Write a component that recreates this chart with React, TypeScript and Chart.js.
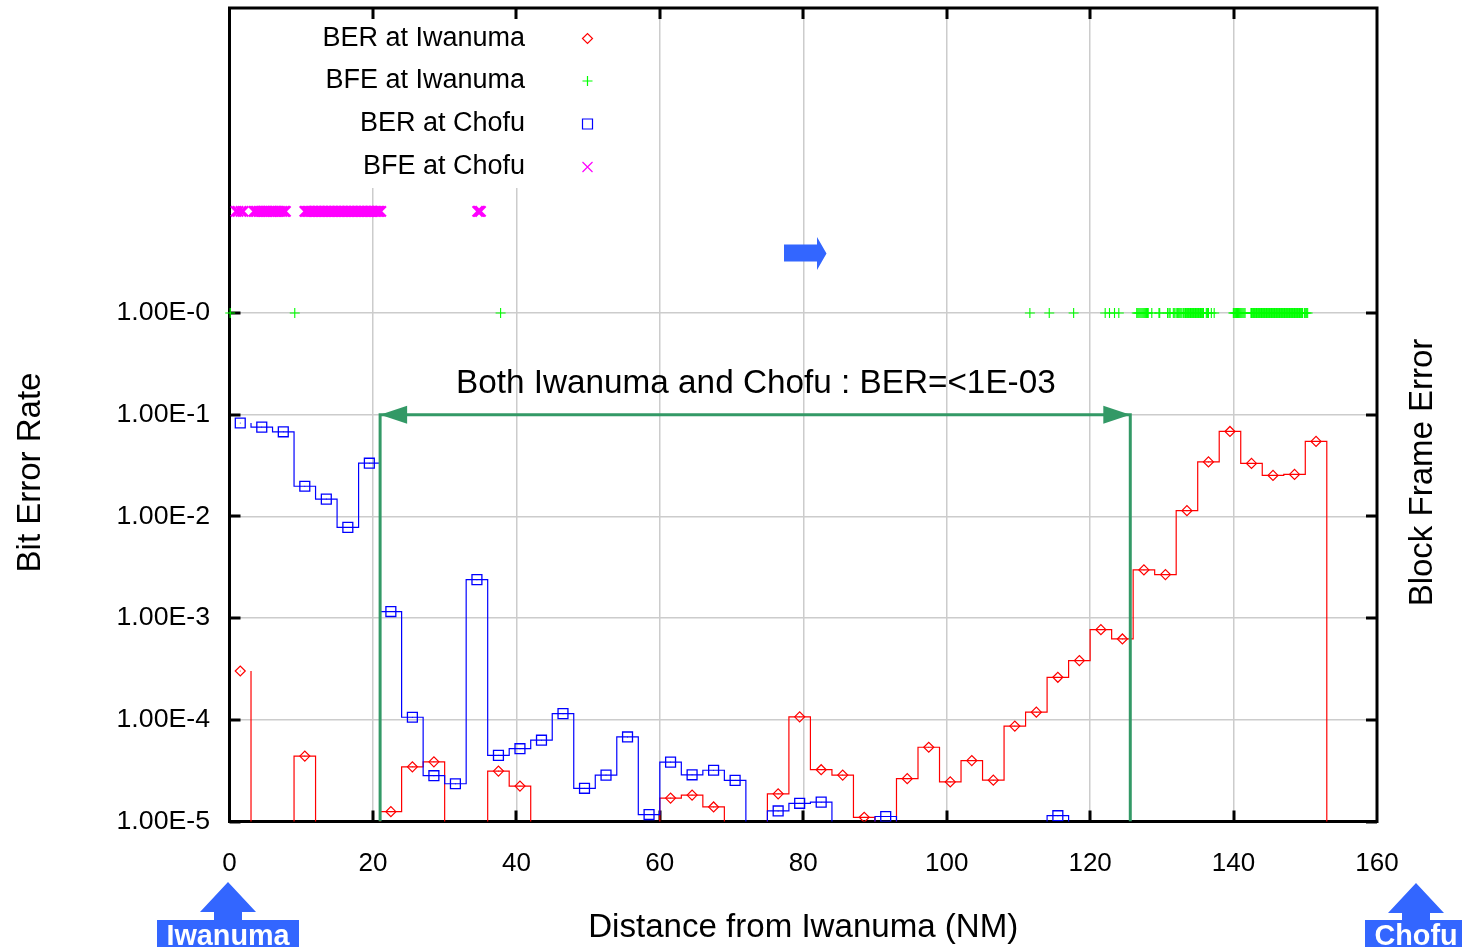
import React, { useEffect, useRef } from "react";
import { Chart, registerables } from "chart.js";

Chart.register(...registerables);

const FONT = '"Liberation Sans", Arial, sans-serif';

const xTicks = [0, 20, 40, 60, 80, 100, 120, 140, 160];
const yTicks = [1e-5, 1e-4, 1e-3, 1e-2, 1e-1, 1e0];
const yTickLabels = ["1.00E-5", "1.00E-4", "1.00E-3", "1.00E-2", "1.00E-1", "1.00E-0"];

const binCentres = [
  1.5, 4.5, 7.5, 10.5, 13.5, 16.5, 19.5, 22.5, 25.5, 28.5, 31.5, 34.5, 37.5, 40.5, 43.5, 46.5, 49.5,
  52.5, 55.5, 58.5, 61.5, 64.5, 67.5, 70.5, 73.5, 76.5, 79.5, 82.5, 85.5, 88.5, 91.5, 94.5, 97.5,
  100.5, 103.5, 106.5, 109.5, 112.5, 115.5, 118.5, 121.5, 124.5, 127.5, 130.5, 133.5, 136.5, 139.5,
  142.5, 145.5, 148.5, 151.5,
];

// null = below the 1E-5 floor of the axis
const berIwanuma: (number | null)[] = [
  3.02e-4, null, null, 4.4e-5, null, null, null, 1.25e-5, 3.45e-5, 3.86e-5, null, null, 3.13e-5, 2.23e-5,
  null, null, null, null, null, null, 1.7e-5, 1.82e-5, 1.39e-5, null, null, 1.87e-5, 1.07e-4, 3.23e-5,
  2.86e-5, 1.1e-5, null, 2.64e-5, 5.37e-5, 2.45e-5, 3.97e-5, 2.55e-5, 8.67e-5, 1.19e-4, 2.62e-4, 3.82e-4,
  7.7e-4, 6.24e-4, 2.98e-3, 2.68e-3, 1.14e-2, 3.44e-2, 6.85e-2, 3.32e-2, 2.53e-2, 2.59e-2, 5.47e-2,
];
const berChofu: (number | null)[] = [
  8.3e-2, 7.56e-2, 6.8e-2, 1.98e-2, 1.48e-2, 7.8e-3, 3.34e-2, 1.16e-3, 1.06e-4, 2.82e-5, 2.35e-5, 2.39e-3,
  4.47e-5, 5.2e-5, 6.3e-5, 1.15e-4, 2.12e-5, 2.86e-5, 6.78e-5, 1.17e-5, 3.84e-5, 2.88e-5, 3.19e-5, 2.54e-5,
  null, 1.27e-5, 1.51e-5, 1.55e-5, null, null, 1.12e-5, null, null, null, null, null, null, null, 1.14e-5,
  null, null, null, null, null, null, null, null, null, null, null, null,
];

const bfeIwanumaX = [
  0.1, 9.1, 37.8, 111.6, 114.3, 117.7, 122.1, 122.7, 123.4, 124.0, 126.5, 126.65, 126.8, 126.95, 127.1, 127.25,
  127.4, 127.55, 127.7, 127.85, 128.0, 128.1, 128.6, 129.6, 129.7, 130.8, 131.0, 131.15, 131.6, 131.8, 132.0,
  132.2, 132.35, 132.5, 132.65, 132.8, 133.0, 133.2, 133.3, 133.4, 133.5, 133.6, 133.7, 133.8, 133.9, 134.0,
  134.1, 134.2, 134.3, 134.4, 134.5, 134.6, 134.7, 134.8, 134.9, 135.0, 135.1, 135.2, 135.3, 135.4, 135.5,
  135.6, 135.7, 135.8, 136.2, 136.35, 136.5, 136.9, 137.3, 139.97, 140.1, 140.25, 140.4, 140.55, 140.7, 140.85,
  141.0, 141.15, 141.3, 141.45, 141.6, 142.43, 142.5, 142.6, 142.7, 142.8, 142.9, 143.0, 143.1, 143.2, 143.3,
  143.4, 143.5, 143.6, 143.7, 143.8, 143.9, 144.0, 144.1, 144.2, 144.3, 144.4, 144.5, 144.6, 144.7, 144.8,
  144.9, 145.0, 145.1, 145.2, 145.3, 145.4, 145.5, 145.6, 145.7, 145.8, 145.9, 146.0, 146.1, 146.2, 146.3,
  146.4, 146.5, 146.6, 146.7, 146.8, 146.9, 147.0, 147.1, 147.2, 147.3, 147.4, 147.5, 147.6, 147.7, 147.8,
  147.9, 148.0, 148.1, 148.2, 148.3, 148.4, 148.5, 148.6, 148.7, 148.8, 148.9, 149.0, 149.1, 149.2, 149.3,
  149.4, 149.5, 149.6, 149.87, 150.0, 150.15, 150.33,
];
const bfeChofuX = [
  0.9, 1.2, 1.6, 1.9, 3.4, 3.6, 3.8, 4.1, 4.3, 4.5, 4.8, 5.0, 5.2, 5.5, 5.8, 6.0, 6.3, 6.5, 6.8, 7.0, 7.3,
  7.6, 7.8, 10.5, 10.7, 10.9, 11.1, 11.3, 11.5, 11.7, 11.9, 12.1, 12.3, 12.5, 12.7, 12.9, 13.1, 13.3,
  13.5, 13.7, 13.9, 14.1, 14.3, 14.5, 14.7, 14.9, 15.1, 15.3, 15.5, 15.7, 15.9, 16.1, 16.3, 16.5, 16.7, 16.9,
  17.1, 17.3, 17.5, 17.7, 17.9, 18.1, 18.3, 18.5, 18.7, 18.9, 19.1, 19.3, 19.5, 19.7, 19.9, 20.1, 20.3, 20.5,
  20.7, 20.9, 21.1, 34.6, 34.8, 35.0,
];

const bfeIwanumaLevel = 1;
const bfeChofuLevel = 10;
const belowAxis = 1e-7;

const bracketX = [21, 21, 125.6, 125.6];
const bracketY = [1e-5, 1e-1, 1e-1, 1e-5];

const legendLabels = ["BER at Iwanuma", "BFE at Iwanuma", "BER at Chofu", "BFE at Chofu"];
const legendStyles = ["diamond", "plus", "square", "cross"];
const legendColors = ["#ff0000", "#00ff00", "#0000ff", "#ff00ff"];

const COL_BLUE = "#3366ff";
const COL_GREEN = "#339966";
const PLOT_TOP = 8;

function outline(values: (number | null)[]) {
  const pts: { x: number; y: number }[] = [];
  for (let i = 1; i <= values.length; i++) {
    const edge = binCentres[i - 1] + 1.5;
    const prev = values[i - 1] ?? belowAxis;
    const cur = i < values.length ? values[i] ?? belowAxis : belowAxis;
    pts.push({ x: edge, y: prev }, { x: edge, y: cur });
  }
  return pts;
}

function markers(values: (number | null)[]) {
  return binCentres
    .map((x, i) => ({ x, y: values[i] }))
    .filter((p) => p.y !== null) as { x: number; y: number }[];
}

function poly(ctx: CanvasRenderingContext2D, pts: number[][], color: string) {
  ctx.beginPath();
  pts.forEach(([x, y], i) => (i ? ctx.lineTo(x, y) : ctx.moveTo(x, y)));
  ctx.closePath();
  ctx.fillStyle = color;
  ctx.fill();
}

function sample(ctx: CanvasRenderingContext2D, style: string, color: string, x: number, y: number) {
  ctx.strokeStyle = color;
  ctx.fillStyle = color;
  ctx.lineWidth = 1.2;
  ctx.beginPath();
  if (style === "diamond") {
    ctx.moveTo(x - 5, y);
    ctx.lineTo(x, y - 5);
    ctx.lineTo(x + 5, y);
    ctx.lineTo(x, y + 5);
    ctx.closePath();
  } else if (style === "plus") {
    ctx.moveTo(x - 5, y);
    ctx.lineTo(x + 5, y);
    ctx.moveTo(x, y - 5);
    ctx.lineTo(x, y + 5);
  } else if (style === "square") {
    ctx.rect(x - 5, y - 5, 10, 10);
  } else {
    ctx.moveTo(x - 5, y - 5);
    ctx.lineTo(x + 5, y + 5);
    ctx.moveTo(x + 5, y - 5);
    ctx.lineTo(x - 5, y + 5);
  }
  ctx.stroke();
}

const overlay = {
  id: "overlay",
  afterLayout(chart: any) {
    // pin the top of the plot area, whatever the tick labels asked for
    const a = chart.chartArea;
    const y = chart.scales.y;
    a.top = PLOT_TOP;
    a.height = a.bottom - PLOT_TOP;
    y.top = PLOT_TOP;
    y.height = a.height;
    y.configure();
  },
  beforeDatasetsDraw(chart: any) {
    const { ctx, chartArea: a, scales } = chart;
    const sx = scales.x;
    const sy = scales.y;
    ctx.save();

    // legend box hides the grid
    ctx.fillStyle = "#ffffff";
    ctx.fillRect(300, 11, 300, 177);

    // frame and inward ticks
    ctx.strokeStyle = "#000000";
    ctx.lineWidth = 3;
    ctx.strokeRect(a.left, a.top, a.right - a.left, a.bottom - a.top);
    ctx.beginPath();
    xTicks.slice(1, -1).forEach((v) => {
      const x = Math.round(sx.getPixelForValue(v));
      ctx.moveTo(x, a.bottom);
      ctx.lineTo(x, a.bottom - 11);
      ctx.moveTo(x, a.top);
      ctx.lineTo(x, a.top + 11);
    });
    yTicks.forEach((v) => {
      const y = Math.round(sy.getPixelForValue(v));
      ctx.moveTo(a.left, y);
      ctx.lineTo(a.left + 11, y);
      ctx.moveTo(a.right, y);
      ctx.lineTo(a.right - 11, y);
    });
    ctx.stroke();
    ctx.restore();
  },
  afterDraw(chart: any) {
    const { ctx, scales } = chart;
    const sx = scales.x;
    const sy = scales.y;
    ctx.save();

    // legend
    ctx.textAlign = "right";
    ctx.textBaseline = "alphabetic";
    ctx.font = `27px ${FONT}`;
    const baselines = [46, 88, 131, 174];
    const markY = [38.5, 81, 124, 167];
    legendLabels.forEach((t, i) => {
      ctx.fillStyle = "#000000";
      ctx.fillText(t, 525, baselines[i]);
      sample(ctx, legendStyles[i], legendColors[i], 587.5, markY[i]);
    });

    // bracket arrowheads
    const yb = sy.getPixelForValue(bracketY[1]);
    const xl = sx.getPixelForValue(bracketX[1]);
    const xr = sx.getPixelForValue(bracketX[2]);
    poly(ctx, [[xl, yb], [xl + 27, yb - 9], [xl + 27, yb + 9]], COL_GREEN);
    poly(ctx, [[xr, yb], [xr - 27, yb - 9], [xr - 27, yb + 9]], COL_GREEN);

    // annotation text
    ctx.fillStyle = "#000000";
    ctx.textAlign = "left";
    ctx.font = `33.3px ${FONT}`;
    ctx.fillText("Both Iwanuma and Chofu : BER=<1E-03", 456, 393);

    // right-pointing direction arrow
    poly(ctx, [[784, 244.5], [817, 244.5], [817, 237], [826.5, 253.5], [817, 270], [817, 261.5], [784, 261.5]], COL_BLUE);

    // rotated axis titles
    ctx.textAlign = "center";
    ctx.textBaseline = "middle";
    ctx.font = `33px ${FONT}`;
    [["Bit Error Rate", 30.5], ["Block Frame Error", 1423]].forEach(([t, x]) => {
      ctx.save();
      ctx.translate(x as number, 472.5);
      ctx.rotate(-Math.PI / 2);
      ctx.fillStyle = "#000000";
      ctx.fillText(t as string, 0, 0);
      ctx.restore();
    });

    // site labels
    const site = (label: string, rx: number, rw: number, cx: number, tip: number) => {
      poly(ctx, [[cx, tip], [cx + 28, tip + 30], [cx + 14, tip + 30], [cx + 14, 921], [cx - 14, 921], [cx - 14, tip + 30], [cx - 28, tip + 30]], COL_BLUE);
      ctx.fillStyle = COL_BLUE;
      ctx.fillRect(rx, 920, rw, 27);
      ctx.fillStyle = "#ffffff";
      ctx.font = `bold 28.8px ${FONT}`;
      ctx.textAlign = "center";
      ctx.textBaseline = "alphabetic";
      ctx.fillText(label, cx, 945);
    };
    site("Iwanuma", 157, 142, 228, 882);
    site("Chofu", 1365, 97, 1416, 883);
    ctx.restore();
  },
};

export default function App() {
  const ref = useRef<HTMLCanvasElement>(null);
  useEffect(() => {
    document.body.style.margin = "0";
    const chart = new Chart(ref.current!, {
      type: "scatter",
      plugins: [overlay],
      data: {
        datasets: [
          {
            label: "Both BER<=1E-03",
            data: bracketX.map((x, i) => ({ x, y: bracketY[i] })),
            showLine: true,
            borderColor: COL_GREEN,
            borderWidth: 3,
            pointRadius: 0,
            order: 0,
          },
          {
            label: "BER at Iwanuma line",
            data: outline(berIwanuma),
            showLine: true,
            borderColor: "#ff0000",
            borderWidth: 1.2,
            pointRadius: 0,
            order: 3,
          },
          {
            label: "BER at Chofu line",
            data: outline(berChofu),
            showLine: true,
            borderColor: "#0000ff",
            borderWidth: 1.2,
            pointRadius: 0,
            order: 2,
          },
          {
            label: "BER at Iwanuma",
            data: markers(berIwanuma),
            pointStyle: "rectRot",
            pointRadius: 5,
            pointBorderWidth: 1.2,
            pointBorderColor: "#ff0000",
            pointBackgroundColor: "transparent",
            order: 1,
          },
          {
            label: "BER at Iwanuma centres",
            data: markers(berIwanuma),
            pointStyle: "circle",
            pointRadius: 0.5,
            pointBorderWidth: 0,
            pointBackgroundColor: "#ff0000",
            order: 1,
          },
          {
            label: "BER at Chofu",
            data: markers(berChofu),
            pointStyle: "rect",
            pointRadius: 7,
            pointBorderWidth: 1.3,
            pointBorderColor: "#0000ff",
            pointBackgroundColor: "transparent",
            order: 1,
          },
          {
            label: "BER at Chofu centres",
            data: markers(berChofu),
            pointStyle: "circle",
            pointRadius: 0.5,
            pointBorderWidth: 0,
            pointBackgroundColor: "#0000ff",
            order: 1,
          },
          {
            label: "BFE at Iwanuma",
            data: bfeIwanumaX.map((x) => ({ x, y: bfeIwanumaLevel })),
            pointStyle: "cross",
            pointRadius: 5,
            pointBorderWidth: 1.1,
            pointBorderColor: "#00ff00",
            clip: false,
            order: 1,
          },
          {
            label: "BFE at Chofu",
            data: bfeChofuX.map((x) => ({ x, y: bfeChofuLevel })),
            pointStyle: "crossRot",
            pointRadius: 7.2,
            pointBorderWidth: 2.2,
            pointBorderColor: "#ff00ff",
            order: 1,
          },
        ],
      },
      options: {
        responsive: false,
        animation: false,
        layout: { padding: { left: 0, right: 85, top: 8, bottom: 0 } },
        elements: { line: { tension: 0 } },
        plugins: { legend: { display: false }, tooltip: { enabled: false } },
        scales: {
          x: {
            type: "linear",
            min: 0,
            max: 160,
            afterBuildTicks: (s: any) => {
              s.ticks = xTicks.map((value) => ({ value }));
            },
            afterFit: (s: any) => {
              s.height = 125.5;
              s.paddingLeft = 0;
              s.paddingRight = 0;
            },
            border: { display: false },
            grid: { color: "#cccccc", lineWidth: 1.5, drawTicks: false },
            ticks: {
              color: "#000000",
              font: { family: FONT, size: 26 },
              padding: 27,
              maxRotation: 0,
              autoSkip: false,
            },
            title: {
              display: true,
              text: "Distance from Iwanuma (NM)",
              color: "#000000",
              font: { family: FONT, size: 33.1 },
              padding: { top: 0, bottom: -1 },
            },
          },
          y: {
            type: "logarithmic",
            min: 1e-5,
            max: 1e3,
            afterBuildTicks: (s: any) => {
              s.ticks = yTicks.map((value) => ({ value, major: true }));
            },
            afterFit: (s: any) => {
              s.width = 229.5;
              s.paddingTop = 0;
              s.paddingBottom = 0;
            },
            border: { display: false },
            grid: { color: "#cccccc", lineWidth: 1.5, drawTicks: false },
            ticks: {
              color: "#000000",
              font: { family: FONT, size: 26.7 },
              padding: 19.5,
              autoSkip: false,
              callback: (v: any) => yTickLabels[yTicks.indexOf(Number(v))] ?? "",
            },
          },
        },
      },
    } as any);
    return () => chart.destroy();
  }, []);
  return (
    <div style={{ position: "absolute", left: 0, top: 0, width: 1462, height: 947, background: "#ffffff" }}>
      <canvas ref={ref} width={1462} height={947} style={{ display: "block" }} />
    </div>
  );
}
